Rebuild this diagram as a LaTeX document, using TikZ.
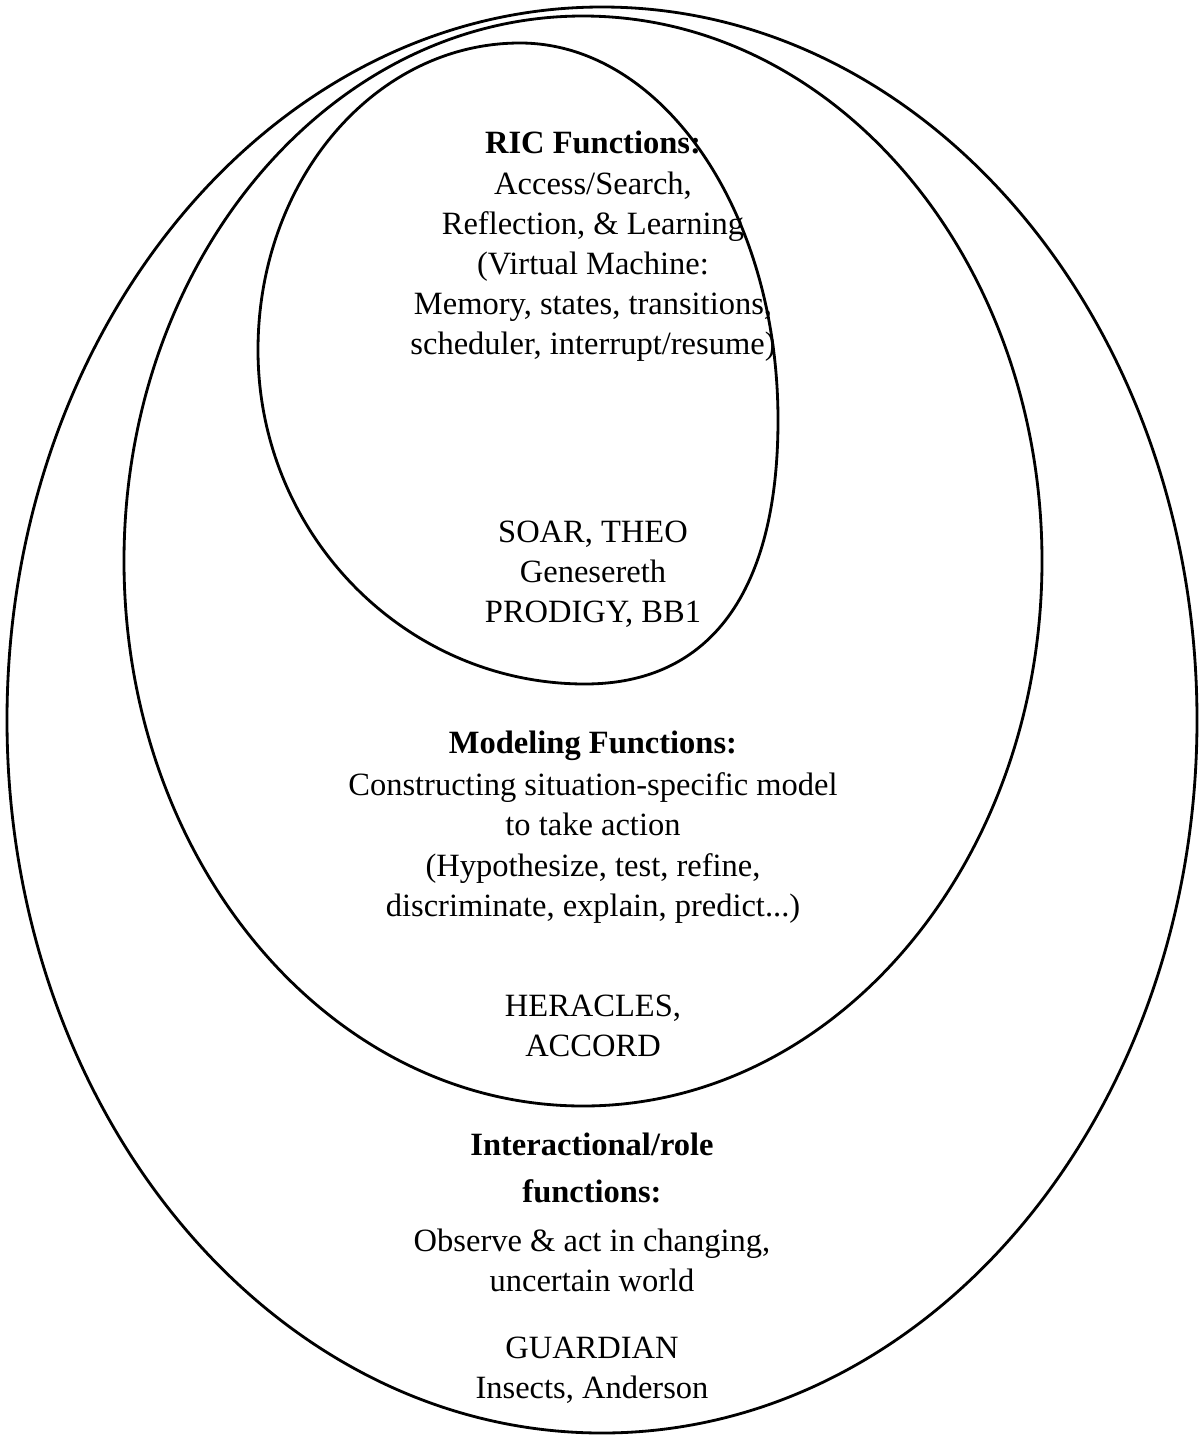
\documentclass[tikz,border=0pt]{standalone}
\usepackage{fontspec}
\setmainfont{Liberation Serif}
\tikzset{
  ring/.style={line width=1.6pt},
  lbl/.style={align=center, font=\fontsize{18.5}{22.8}\selectfont},
  hdr/.style={align=center, font=\fontsize{18.5}{26.8}\selectfont\bfseries}
}
\begin{document}
\begin{tikzpicture}[x=0.02cm, y=-0.02cm]
\useasboundingbox (0,0) rectangle (1198,1437);
% outer and middle ellipses:
\draw[ring] (602,720) ellipse [x radius=595, y radius=713];
\draw[ring] (583,561) ellipse [x radius=459, y radius=545];
% inner ring, a little fuller at the lower right:
\draw[ring] (520,43) .. controls (661,43) and (778,210) .. (778,420)
  .. controls (778,592) and (710,684) .. (585,684)
  .. controls (405,684) and (258,534) .. (258,350)
  .. controls (258,180) and (375,43) .. cycle;
% RIC functions:
\node[hdr] (richead) at (593,142) {RIC Functions:};
\node[lbl] (rictext) at (593,267) {Access/Search,\\Reflection, \& Learning\\(Virtual Machine:\\Memory, states, transitions,\\scheduler, interrupt/resume)};
\node[lbl] (ricsys) at (593,574) {SOAR, THEO\\Genesereth\\PRODIGY, BB1};
% modeling functions:
\node[hdr] (modhead) at (593,746) {Modeling Functions:};
\node[lbl] (modtext) at (593,848) {Constructing situation-specific model\\to take action\\(Hypothesize, test, refine,\\discriminate, explain, predict...)};
\node[lbl] (modsys) at (593,1026) {HERACLES,\\ACCORD};
% interactional/role functions:
\node[hdr] (rolehead) at (592,1168) {Interactional/role\\functions:};
\node[lbl] (roletext) at (592,1260) {Observe \& act in changing,\\uncertain world};
\node[lbl] (rolesys) at (592,1370) {GUARDIAN\\Insects, Anderson};
\end{tikzpicture}
\end{document}
